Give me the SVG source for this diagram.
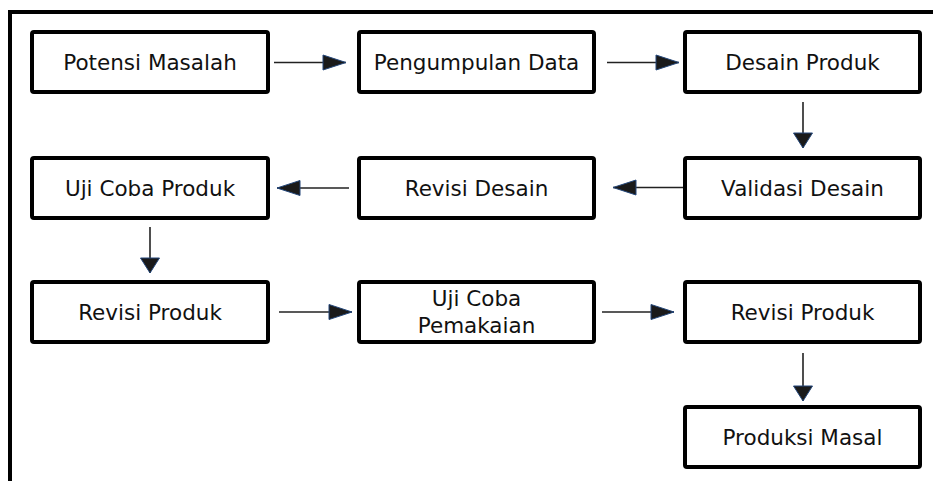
<svg xmlns="http://www.w3.org/2000/svg" width="933" height="481" viewBox="0 0 933 481">
<style>
.box{fill:#fff;stroke:#000;stroke-width:4;}
.lbl{font-family:"DejaVu Sans",Verdana,sans-serif;font-size:21.5px;fill:#111;text-anchor:middle;}
.con{stroke:#222;stroke-width:1.6;fill:none;}
</style>
<defs>
<marker id="ah" markerUnits="userSpaceOnUse" markerWidth="25" markerHeight="17" refX="23" refY="8" orient="auto" overflow="visible">
<path d="M0,0.5 L23,8 L0,15.5 z" fill="#1a1a1a" stroke="#24477a" stroke-width="1"/>
</marker>
<marker id="av" markerUnits="userSpaceOnUse" markerWidth="17" markerHeight="21" refX="15" refY="9.5" orient="auto" overflow="visible">
<path d="M0,0 L15,9.5 L0,19 z" fill="#1a1a1a" stroke="#24477a" stroke-width="1"/>
</marker>
</defs>
<rect x="0" y="0" width="933" height="481" fill="#fff"/>
<path d="M10,481 V12 H933" fill="none" stroke="#000" stroke-width="4"/>

<g id="n1"><rect class="box" x="32" y="32" width="236" height="60" rx="2"/><text class="lbl" x="150" y="69.7">Potensi Masalah</text></g>
<g id="n2"><rect class="box" x="359" y="32" width="235" height="60" rx="2"/><text class="lbl" x="476.5" y="69.7">Pengumpulan Data</text></g>
<g id="n3"><rect class="box" x="685" y="32" width="235" height="60" rx="2"/><text class="lbl" x="802.5" y="69.7">Desain Produk</text></g>
<g id="n4"><rect class="box" x="685" y="158" width="235" height="60" rx="2"/><text class="lbl" x="802.5" y="195.5">Validasi Desain</text></g>
<g id="n5"><rect class="box" x="359" y="158" width="235" height="60" rx="2"/><text class="lbl" x="476.5" y="195.5">Revisi Desain</text></g>
<g id="n6"><rect class="box" x="32" y="158" width="236" height="60" rx="2"/><text class="lbl" x="150" y="195.5">Uji Coba Produk</text></g>
<g id="n7"><rect class="box" x="32" y="282" width="236" height="60" rx="2"/><text class="lbl" x="150" y="319.7">Revisi Produk</text></g>
<g id="n8"><rect class="box" x="359" y="282" width="235" height="60" rx="2"/><text class="lbl" x="476.5" y="305.5">Uji Coba</text><text class="lbl" x="476.5" y="332.5">Pemakaian</text></g>
<g id="n9"><rect class="box" x="685" y="282" width="235" height="60" rx="2"/><text class="lbl" x="802.5" y="319.7">Revisi Produk</text></g>
<g id="n10"><rect class="box" x="685" y="407" width="235" height="60" rx="2"/><text class="lbl" x="802.5" y="445">Produksi Masal</text></g>

<g id="connectors">
<line class="con" x1="274" y1="62.5" x2="346" y2="62.5" marker-end="url(#ah)"/>
<line class="con" x1="607" y1="62.5" x2="679" y2="62.5" marker-end="url(#ah)"/>
<line class="con" x1="803" y1="102" x2="803" y2="148" marker-end="url(#av)"/>
<line class="con" x1="683" y1="187.5" x2="613" y2="187.5" marker-end="url(#ah)"/>
<line class="con" x1="349" y1="188" x2="277" y2="188" marker-end="url(#ah)"/>
<line class="con" x1="150" y1="227" x2="150" y2="273" marker-end="url(#av)"/>
<line class="con" x1="279" y1="312" x2="352" y2="312" marker-end="url(#ah)"/>
<line class="con" x1="602" y1="312" x2="674" y2="312" marker-end="url(#ah)"/>
<line class="con" x1="803" y1="353" x2="803" y2="401" marker-end="url(#av)"/>
</g>
</svg>
